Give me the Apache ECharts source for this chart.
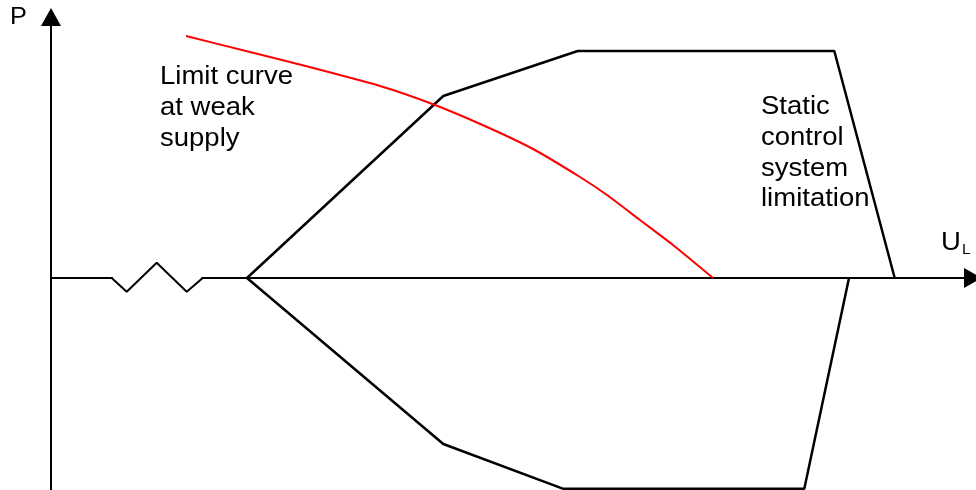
<!DOCTYPE html>
<html>
<head>
<meta charset="utf-8">
<script src="https://cdn.jsdelivr.net/npm/echarts@6/dist/echarts.min.js"></script>
<style>
  html, body { margin: 0; padding: 0; background: #fff; }
  #chart { width: 976px; height: 490px; }
</style>
</head>
<body>
<div id="chart"></div>
<script>
// Ejes: U_L horizontal, P vertical (unidades arbitrarias, origen en el cruce)
const uMin = 0, uMax = 92.2;
const pMin = -21.2, pMax = 26.1;

// Rotura del eje (zigzag)
const breakU = [6.07, 7.57, 10.57, 13.57, 15.17];
const breakP = [0, -1.37, 1.53, -1.37, 0];
const gapU = [6.2, 15.05];
const gapP = [0, 0];

// Limitación estática del sistema de control (rama superior e inferior)
const upperU = [19.6, 39.23, 52.67, 78.33, 84.37];
const upperP = [0, 18.2, 22.7, 22.7, 0];
const lowerU = [19.6, 39.23, 51.17, 75.33, 79.8];
const lowerP = [0, -16.6, -21.07, -21.07, 0];

// Curva límite con red débil
const limitU = [13.5, 19.9, 23.9, 32.9, 38.4, 43.6, 48.2, 52.9, 55.6, 58.9, 62.2, 66.2];
const limitP = [24.2, 22.6, 21.6, 19.2, 17.3, 15.1, 12.9, 10.1, 8.3, 5.8, 3.3, 0];

const font = "'Liberation Sans', Arial, sans-serif";

function pares(xs, ys) {
    return xs.map((x, i) => [x, ys[i]]);
}

function linea(data, color, width) {
    return {
        type: 'line',
        data: data,
        showSymbol: false,
        silent: true,
        lineStyle: { color: color, width: width }
    };
}

function texto(left, top, text, size, lineHeight) {
    return {
        type: 'text',
        left: left,
        top: top,
        scaleX: 1.1,
        style: { text: text, font: size + 'px ' + font, lineHeight: lineHeight, fill: '#000' }
    };
}

const chart = echarts.init(document.getElementById('chart'));
chart.setOption({
    animation: false,
    backgroundColor: '#ffffff',
    grid: { left: 51, right: 3, top: 17, bottom: 0 },
    xAxis: {
        type: 'value',
        min: uMin,
        max: uMax,
        axisLine: {
            lineStyle: { color: '#000', width: 2 },
            symbol: ['none', 'triangle'],
            symbolSize: [20, 18]
        },
        axisTick: { show: false },
        axisLabel: { show: false },
        splitLine: { show: false }
    },
    yAxis: {
        type: 'value',
        min: pMin,
        max: pMax,
        axisLine: {
            show: true,
            lineStyle: { color: '#000', width: 2 },
            symbol: ['none', 'triangle'],
            symbolSize: [20, 18]
        },
        axisTick: { show: false },
        axisLabel: { show: false },
        splitLine: { show: false }
    },
    series: [
        linea(pares(gapU, gapP), '#ffffff', 5),
        linea(pares(breakU, breakP), '#000', 2),
        linea(pares(upperU, upperP), '#000', 2.5),
        linea(pares(lowerU, lowerP), '#000', 2.5),
        Object.assign(linea(pares(limitU, limitP), '#ff0000', 2), { smooth: 0.2 })
    ],
    graphic: [
        texto(10, 6, 'P', 23, 24),
        texto(160, 62, 'Limit curve\nat weak\nsupply', 25, 30.8),
        texto(761, 92, 'Static\ncontrol\nsystem\nlimitation', 25, 30.7),
        texto(941, 231, 'U', 25, 25),
        texto(962, 243, 'L', 14, 14)
    ]
});
</script>
</body>
</html>
